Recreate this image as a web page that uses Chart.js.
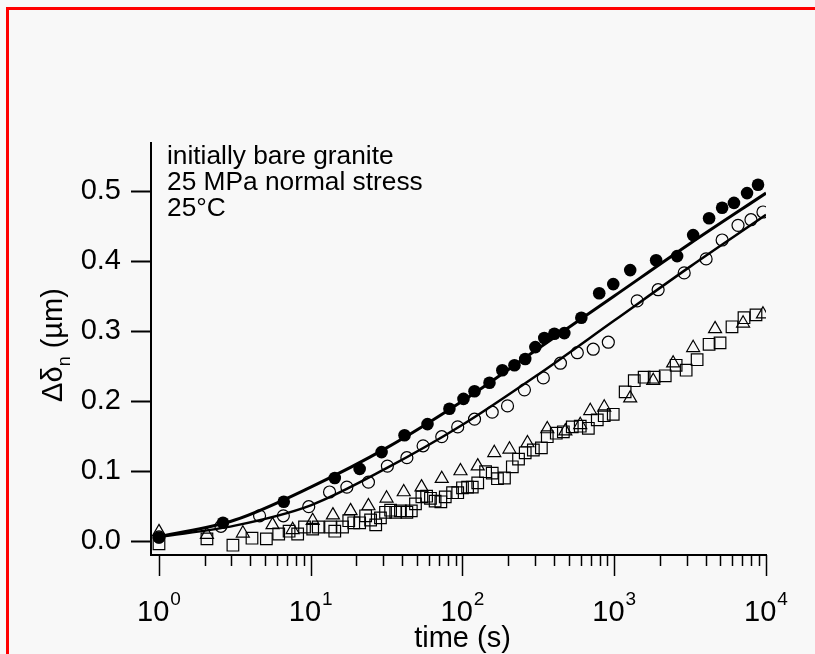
<!DOCTYPE html>
<html>
<head>
<meta charset="utf-8">
<script src="https://cdn.jsdelivr.net/npm/chart.js@4.4.1/dist/chart.umd.min.js"></script>
<style>
  html, body { margin: 0; padding: 0; background: #f8f8f8; }
  #frame { position: absolute; left: 6px; top: 7px; width: 900px; height: 800px;
           border-left: 3px solid #ff0000; border-top: 3px solid #ff0000; }
  #wrap { position: absolute; left: 0; top: 0; width: 815px; height: 654px; }
</style>
</head>
<body>
<div id="frame"></div>
<div id="wrap"><canvas id="creepChart"></canvas></div>
<script>
// filled circles
const filledT = [1, 2.64, 6.64, 14.4, 21, 29.3, 41.5, 58.8, 82, 101.5, 120, 150.6, 183, 220, 259, 302, 346, 403, 469, 607, 796, 985, 1274, 1888, 2597, 3311, 4217, 5140, 6150, 7500, 8860];
const filledD = [0.005, 0.026, 0.056, 0.09, 0.103, 0.127, 0.151, 0.167, 0.189, 0.203, 0.214, 0.226, 0.244, 0.251, 0.26, 0.277, 0.29, 0.296, 0.297, 0.319, 0.354, 0.367, 0.387, 0.401, 0.407, 0.437, 0.461, 0.476, 0.483, 0.497, 0.509];

// open circles
const openT = [1, 2.56, 4.6, 6.6, 9.7, 13.3, 17.3, 24, 32, 43, 55, 73, 93, 120, 157, 198, 256, 341, 442, 571, 727, 914, 1416, 1946, 2890, 4030, 5140, 6540, 7960, 9550];
const openD = [0.006, 0.021, 0.036, 0.036, 0.049, 0.07, 0.077, 0.084, 0.107, 0.119, 0.136, 0.149, 0.163, 0.174, 0.184, 0.193, 0.216, 0.233, 0.254, 0.269, 0.274, 0.284, 0.343, 0.359, 0.383, 0.403, 0.43, 0.451, 0.459, 0.47];

// triangles
const triT = [1, 2.07, 3.57, 5.6, 7.6, 10.3, 14, 18.3, 24, 31.6, 41, 53.7, 73, 97, 126, 162, 204, 268, 362, 476, 597, 695, 859, 1274, 1807, 2444, 3311, 4617, 7063, 9550];
const triD = [0.013, 0.009, 0.011, 0.023, 0.016, 0.029, 0.037, 0.043, 0.05, 0.061, 0.07, 0.077, 0.089, 0.1, 0.107, 0.126, 0.131, 0.14, 0.16, 0.157, 0.166, 0.186, 0.191, 0.204, 0.229, 0.254, 0.276, 0.303, 0.311, 0.324];

// squares
const sqT = [1, 2.07, 3.07, 4.1, 5.1, 6.15, 7.2, 8.2, 9.1, 10.3, 11.2, 13.5, 14.4, 16.2, 17.8, 19.2, 21, 23, 24.8, 26.8,
  28.8, 31.1, 33.6, 36.3, 39, 43, 46, 49, 54, 58, 61.5, 66, 72, 77, 86, 93, 100, 108, 116, 126,
  142, 157, 170, 189, 213, 234, 259, 293, 331, 362, 415, 462, 529, 597, 675, 773, 859, 985, 1180, 1355,
  1574, 1833, 2168, 2558, 2977, 3516, 4217, 4980, 5970, 7161, 8590];
const sqD = [-0.004, 0.003, -0.006, 0.004, 0.003, 0.01, 0.014, 0.01, 0.02, 0.017, 0.02, 0.02, 0.014, 0.02, 0.029, 0.026, 0.026, 0.036, 0.03, 0.023,
  0.033, 0.041, 0.044, 0.041, 0.043, 0.041, 0.043, 0.053, 0.063, 0.064, 0.061, 0.057, 0.056, 0.063, 0.069, 0.069, 0.076, 0.077, 0.077, 0.083,
  0.099, 0.097, 0.089, 0.09, 0.106, 0.117, 0.126, 0.13, 0.133, 0.149, 0.154, 0.156, 0.163, 0.164, 0.161, 0.173, 0.179, 0.181, 0.213, 0.229,
  0.234, 0.234, 0.236, 0.251, 0.244, 0.259, 0.281, 0.283, 0.306, 0.319, 0.323];

// fitted curves
const fitT = [1, 3.16, 10, 31.6, 100, 316, 1000, 3162, 10000];
const fitFilled = [0.006, 0.030, 0.077, 0.133, 0.200, 0.275, 0.350, 0.425, 0.497];
const fitOpen = [0.006, 0.022, 0.051, 0.104, 0.166, 0.238, 0.315, 0.392, 0.466];

const yTicks = [0, 0.1, 0.2, 0.3, 0.4, 0.5];
const decades = [1, 10, 100, 1000, 10000];
const decadeExp = ['0', '1', '2', '3', '4'];
const noteLines = ['initially bare granite', '25 MPa normal stress', '25°C'];

const FONT = "'Liberation Sans', Arial, Helvetica, sans-serif";

function pts(xs, ys) {
    return xs.map((t, i) => ({ x: t, y: ys[i] }));
}

function markerSet(xs, ys, style, radius, filled) {
    return {
        data: pts(xs, ys),
        showLine: false,
        pointStyle: style,
        pointRadius: radius,
        pointBorderWidth: filled ? 0 : 1.2,
        pointBorderColor: '#000',
        pointBackgroundColor: filled ? '#000' : 'rgba(0,0,0,0)'
    };
}

function fitSet(ys, width) {
    return {
        data: pts(fitT, ys),
        showLine: true,
        borderColor: '#000',
        borderWidth: width,
        pointRadius: 0,
        cubicInterpolationMode: 'monotone',
        fill: false
    };
}

// text, x-axis ticks and powers of ten
const figureText = {
    id: 'figureText',
    afterDraw(chart) {
        const ctx = chart.ctx;
        const xs = chart.scales.x;
        const axisY = chart.chartArea.bottom;
        ctx.save();
        ctx.strokeStyle = '#000';
        ctx.fillStyle = '#000';

        // tick marks below the x axis
        ctx.lineWidth = 1.5;
        decades.forEach((d, k) => {
            const mult = k < decades.length - 1 ? [1, 2, 3, 4, 5, 6, 7, 8, 9] : [1];
            mult.forEach(m => {
                const px = Math.round(xs.getPixelForValue(d * m)) + 0.5;
                ctx.beginPath();
                ctx.moveTo(px, axisY);
                ctx.lineTo(px, axisY + (m === 1 ? 21 : 11));
                ctx.stroke();
            });
        });

        // 10^k labels
        ctx.textBaseline = 'alphabetic';
        ctx.textAlign = 'left';
        decades.forEach((d, k) => {
            const px = xs.getPixelForValue(d);
            ctx.font = '29px ' + FONT;
            const w1 = ctx.measureText('10').width;
            ctx.font = '19px ' + FONT;
            const w2 = ctx.measureText(decadeExp[k]).width;
            const x0 = px - (w1 + 1 + w2) / 2;
            ctx.font = '29px ' + FONT;
            ctx.fillText('10', x0, 621);
            ctx.font = '19px ' + FONT;
            ctx.fillText(decadeExp[k], x0 + w1 + 1, 605);
        });

        // x title
        ctx.font = '29px ' + FONT;
        ctx.textAlign = 'center';
        ctx.fillText('time (s)', xs.getPixelForValue(100), 647);

        // y title, rotated
        ctx.save();
        ctx.translate(62, 345);
        ctx.rotate(-Math.PI / 2);
        ctx.textAlign = 'left';
        ctx.font = '29px ' + FONT;
        const a = ctx.measureText('\u0394\u03b4').width;
        const c = ctx.measureText(' (\u00b5m)').width;
        ctx.font = '18px ' + FONT;
        const b = ctx.measureText('n').width;
        let tx = -(a + b + c) / 2;
        ctx.font = '29px ' + FONT;
        ctx.fillText('\u0394\u03b4', tx, 0);
        tx += a;
        ctx.font = '18px ' + FONT;
        ctx.fillText('n', tx, 8);
        tx += b;
        ctx.font = '29px ' + FONT;
        ctx.fillText(' (\u00b5m)', tx, 0);
        ctx.restore();

        // note in the upper left
        ctx.font = '26.3px ' + FONT;
        ctx.textAlign = 'left';
        const baselines = [164, 190, 216];
        noteLines.forEach((s, i) => ctx.fillText(s, 167, baselines[i]));

        ctx.restore();
    }
};

const ctx = document.getElementById('creepChart').getContext('2d');

new Chart(ctx, {
    type: 'scatter',
    data: {
        datasets: [
            markerSet(sqT, sqD, 'rect', 8.2, false),
            markerSet(triT, triD, 'triangle', 7.5, false),
            markerSet(openT, openD, 'circle', 6, false),
            markerSet(filledT, filledD, 'circle', 6.3, true),
            fitSet(fitOpen, 2.5),
            fitSet(fitFilled, 3)
        ]
    },
    options: {
        responsive: true,
        maintainAspectRatio: false,
        animation: false,
        layout: { padding: { left: 0, top: 143, right: 49, bottom: 0 } },
        plugins: {
            legend: { display: false },
            tooltip: { enabled: false }
        },
        scales: {
            x: {
                type: 'logarithmic',
                min: Math.pow(10, -8 / 152),
                max: 10000,
                grid: { display: false },
                border: { display: true, color: '#000', width: 2 },
                ticks: { display: false },
                afterFit: scale => { scale.height = 99; }
            },
            y: {
                type: 'linear',
                min: -0.02,
                max: 0.5686,
                afterBuildTicks: scale => {
                    scale.ticks = yTicks.map(v => ({ value: v }));
                },
                grid: {
                    display: true,
                    drawOnChartArea: false,
                    drawTicks: true,
                    tickLength: 20,
                    tickWidth: 2,
                    tickColor: '#000'
                },
                border: { display: true, color: '#000', width: 2 },
                ticks: {
                    color: '#000',
                    padding: 10,
                    font: { family: FONT, size: 29 },
                    callback: v => v.toFixed(1)
                },
                afterFit: scale => { scale.width = 151; }
            }
        }
    },
    plugins: [figureText]
});
</script>
</body>
</html>
